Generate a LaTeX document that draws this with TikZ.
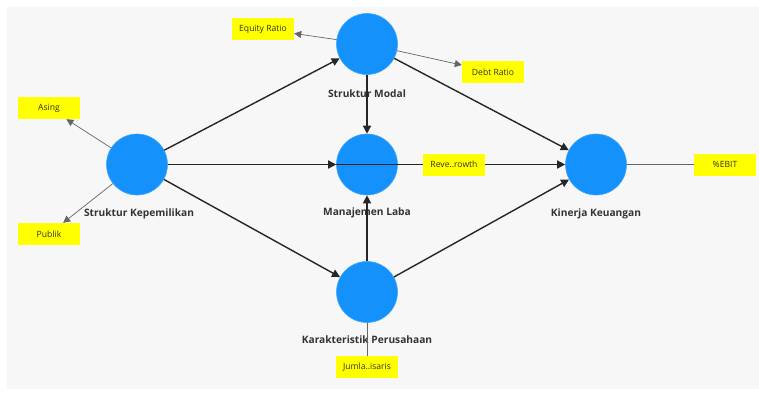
\documentclass[tikz,border=0pt]{standalone}
\usepackage{fontspec}
\setmainfont{Open Sans}
\usetikzlibrary{arrows.meta}
\definecolor{lvblue}{RGB}{20,145,250}
\definecolor{bggrey}{RGB}{247,247,247}
\definecolor{indyellow}{RGB}{255,255,0}
\tikzset{
  latent/.style={circle,fill=lvblue,draw=lvblue!80!white,line width=0.6pt,minimum size=61pt,inner sep=0pt},
  lvlabel/.style={font=\fontsize{10.2}{12}\selectfont\bfseries,text=black!80,inner sep=0pt},
  indicator/.style={fill=indyellow,minimum width=62pt,minimum height=22pt,inner sep=0pt,font=\fontsize{8.6}{10}\selectfont,text=black!80},
  pathedge/.style={line width=1.4pt,draw=black!85,-{Triangle[length=8pt,width=8pt]}},
  loadedge/.style={line width=0.7pt,draw=black!60,-{Triangle[length=7pt,width=7pt]}},
  plainedge/.style={line width=0.7pt,draw=black!60},
}
\begin{document}
\begin{tikzpicture}[x=1pt,y=-1pt]
\useasboundingbox (0,0) rectangle (759,392);
\fill[white] (0,0) rectangle (759,392);
\fill[bggrey] (7,7) rectangle (759,389);
% latent variables
\node[latent] (SK) at (137,164.5) {};
\node[latent] (SM) at (367,44) {};
\node[latent] (ML) at (367,164.5) {};
\node[latent] (KK) at (596,164.5) {};
\node[latent] (KP) at (367,292) {};
% labels
\node[lvlabel] (lSK) at (139,214) {Struktur Kepemilikan};
\node[lvlabel] (lSM) at (367,94) {Struktur Modal};
\node[lvlabel] (lML) at (367,213) {Manajemen Laba};
\node[lvlabel] (lKK) at (596,214) {Kinerja Keuangan};
\node[lvlabel] (lKP) at (367,340) {Karakteristik Perusahaan};
% indicators
\node[indicator] (ER) at (263,29) {Equity Ratio};
\node[indicator] (DR) at (493,72) {Debt Ratio};
\node[indicator] (AS) at (49,108) {Asing};
\node[indicator] (PU) at (49,234) {Publik};
\node[indicator] (EB) at (725,164.5) {\%EBIT};
% loadings
\draw[loadedge] (SM) -- (ER);
\draw[loadedge] (SM) -- (DR);
\draw[loadedge] (SK) -- (AS);
\draw[loadedge] (SK) -- (PU);
\draw[plainedge] (KK) -- (EB);
% paths
\draw[pathedge] (SK) -- (SM);
\draw[pathedge] (SK) -- (ML);
\draw[pathedge] (SK) -- (KP);
\draw[pathedge] (SM) -- (ML);
\draw[pathedge] (SM) -- (KK);
\draw[pathedge] (KP) -- (ML);
\draw[pathedge] (KP) -- (KK);
\draw[pathedge] (ML.west) -- (KK);
% indicators drawn over the path line
\node[indicator] (RG) at (454,164.5) {Reve..rowth};
\node[indicator] (JK) at (367,367) {Jumla..isaris};
\draw[plainedge] (KP) -- (JK);
\end{tikzpicture}
\end{document}
